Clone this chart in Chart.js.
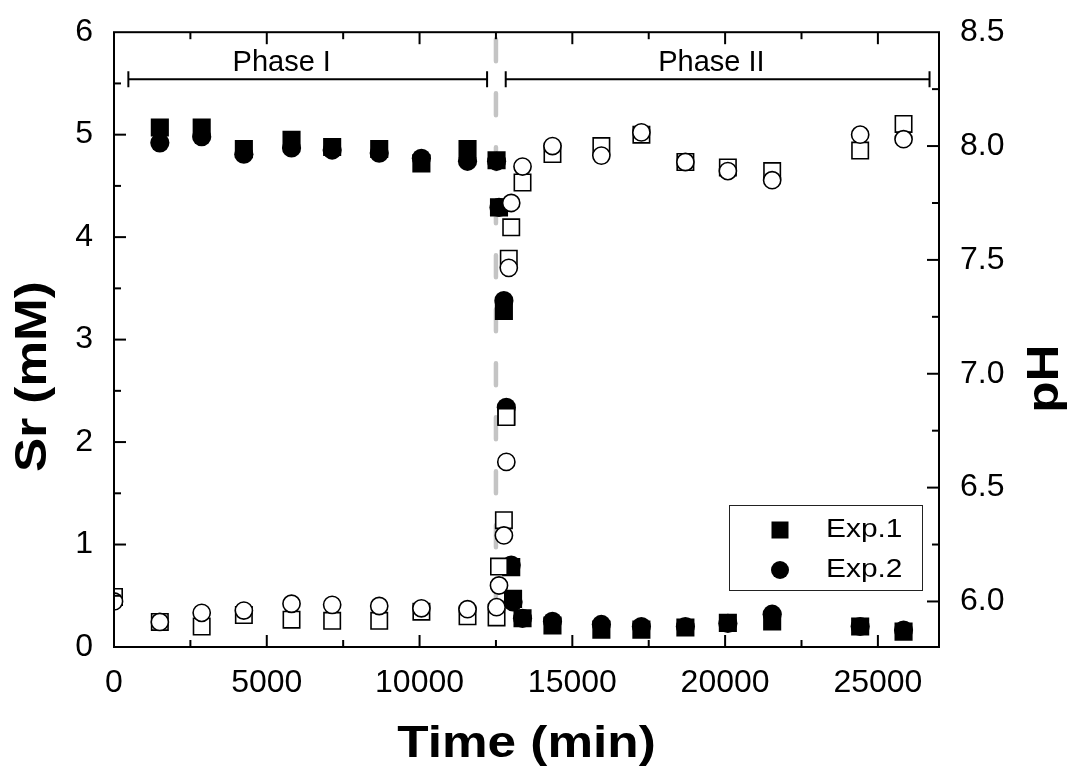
<!DOCTYPE html>
<html>
<head>
<meta charset="utf-8">
<script src="https://cdn.jsdelivr.net/npm/chart.js@4.4.1/dist/chart.umd.min.js"></script>
<style>
  html, body { margin: 0; padding: 0; background: #fff; }
  #wrap { width: 1076px; height: 771px; position: relative; }
</style>
</head>
<body>
<div id="wrap"><canvas id="srChart"></canvas></div>
<script>
// sampling times (min), shared by all series; null = no point at that time
const timeMin = [0, 1500, 2870, 4250, 5810, 7140, 8680, 10060, 11570, 12520, 12600, 12760, 12840, 12920, 13000, 13060, 13370, 14350, 15950, 17260, 18700, 20090, 21540, 24420, 25840];
// Sr concentration (mM), left axis
const srExp1 = [null, 5.07, 5.07, 4.86, 4.95, 4.88, 4.86, 4.72, 4.86, 4.75, 4.29, 3.28, 2.25, null, 0.78, 0.47, 0.28, 0.21, 0.17, 0.17, 0.19, 0.235, 0.25, 0.20, 0.15];
const srExp2 = [null, 4.92, 4.98, 4.81, 4.87, 4.85, 4.82, 4.77, 4.74, 4.74, 4.29, 3.38, 2.34, null, 0.80, 0.44, 0.28, 0.25, 0.22, 0.20, 0.20, 0.23, 0.32, 0.20, 0.165];
// pH, right axis
const phExp1 = [6.02, 5.91, 5.89, 5.94, 5.92, 5.915, 5.915, 5.955, 5.935, 5.93, 6.153, 6.357, 6.81, 7.505, 7.643, null, 7.84, 7.965, 8.0, 8.05, 7.93, 7.906, 7.89, 7.98, 8.097];
const phExp2 = [6.0, 5.91, 5.95, 5.96, 5.99, 5.985, 5.98, 5.97, 5.966, 5.975, 6.07, 6.29, 6.613, 7.465, 7.75, null, 7.91, 8.0, 7.958, 8.06, 7.93, 7.89, 7.85, 8.05, 8.03];

// tick labels
const xTicks = [0, 5000, 10000, 15000, 20000, 25000];
const srTicks = [0, 1, 2, 3, 4, 5, 6];
const phTicks = [6.0, 6.5, 7.0, 7.5, 8.0, 8.5];

// phase brackets (min) and the switch time
const phaseNames = ['Phase I', 'Phase II'];
const phaseStart = [470, 12820];
const phaseEnd = [12210, 26690];
const switchTime = 12500;

const FONT = "'Liberation Sans', Arial, sans-serif";
Chart.defaults.font.family = FONT;
Chart.defaults.color = '#000';

function pts(values) {
  const out = [];
  values.forEach((v, i) => { if (v !== null) out.push({x: timeMin[i], y: v}); });
  return out;
}

const datasets = [
  { label: 'pH Exp.2', data: pts(phExp2), yAxisID: 'yR', order: 0, clip: 0,
    pointStyle: 'circle', pointRadius: 8.6, backgroundColor: '#fff', borderColor: '#000', borderWidth: 1.6 },
  { label: 'pH Exp.1', data: pts(phExp1), yAxisID: 'yR', order: 1, clip: 0,
    pointStyle: 'rect', pointRadius: 11.6, backgroundColor: '#fff', borderColor: '#000', borderWidth: 1.6 },
  { label: 'Exp.2', data: pts(srExp2), yAxisID: 'y', order: 2, clip: 0,
    pointStyle: 'circle', pointRadius: 9.6, backgroundColor: '#000', borderColor: '#000', borderWidth: 0 },
  { label: 'Exp.1', data: pts(srExp1), yAxisID: 'y', order: 3, clip: 0,
    pointStyle: 'rect', pointRadius: 12.8, backgroundColor: '#000', borderColor: '#000', borderWidth: 0 },
];

// phase brackets: line with vertical end caps
phaseNames.forEach((name, i) => {
  datasets.push({
    label: name, yAxisID: 'y', order: 4, showLine: true,
    data: [{x: phaseStart[i], y: 5.54}, {x: phaseEnd[i], y: 5.54}],
    borderColor: '#000', borderWidth: 2,
    pointStyle: 'line', rotation: 90, pointRadius: 8, pointBorderWidth: 2, pointBorderColor: '#000'
  });
});

// grey dashed switch line
datasets.push({
  label: 'switch', yAxisID: 'y', order: 5, showLine: true,
  data: [{x: switchTime, y: 5.93}, {x: switchTime, y: 0.4}],
  borderColor: '#c4c4c4', borderWidth: 4.5, borderDash: [22, 32], borderCapStyle: 'round',
  pointRadius: 0
});

// text a bit wider than the font, like the original export
function wideText(ctx, text, x, y, rot, stretch) {
  ctx.save();
  ctx.translate(x, y);
  ctx.rotate(rot);
  ctx.scale(stretch, 1);
  ctx.fillText(text, 0, 0);
  ctx.restore();
}

const decorations = {
  id: 'decorations',
  afterDatasetsDraw(chart) {
    const {ctx, chartArea: a, scales} = chart;
    const x = scales.x, y = scales.y, yR = scales.yR;
    ctx.save();
    ctx.strokeStyle = '#000';
    ctx.lineWidth = 2;
    ctx.strokeRect(a.left, a.top, a.right - a.left, a.bottom - a.top);
    const seg = (x1, y1, x2, y2) => { ctx.beginPath(); ctx.moveTo(x1, y1); ctx.lineTo(x2, y2); ctx.stroke(); };

    // inward ticks, majors 12px, minors 7px
    for (let v = 2500; v < x.max; v += 2500) {
      const p = x.getPixelForValue(v);
      const len = v % 5000 === 0 ? 12 : 7;
      seg(p, a.bottom, p, a.bottom - len);
      seg(p, a.top, p, a.top + len);
    }
    for (let v = 0.5; v < y.max; v += 0.5) {
      const p = y.getPixelForValue(v);
      const len = Number.isInteger(v) ? 12 : 7;
      seg(a.left, p, a.left + len, p);
    }
    for (let v = 6.0; v < yR.max; v += 0.25) {
      const p = yR.getPixelForValue(v);
      const len = Math.abs(v * 2 - Math.round(v * 2)) < 1e-6 ? 12 : 7;
      seg(a.right, p, a.right - len, p);
    }

    // phase labels
    ctx.fillStyle = '#000';
    ctx.font = '29px ' + FONT;
    ctx.textAlign = 'center';
    ctx.textBaseline = 'middle';
    ctx.fillText(phaseNames[0], x.getPixelForValue(5490), y.getPixelForValue(5.70));
    ctx.fillText(phaseNames[1], x.getPixelForValue(19550), y.getPixelForValue(5.70));

    // legend box
    const bx = a.right - 210, by = a.bottom - 142, bw = 193, bh = 85;
    ctx.lineWidth = 1;
    ctx.strokeStyle = '#222';
    ctx.strokeRect(bx + 0.5, by + 0.5, bw, bh);
    ctx.fillRect(bx + 51 - 8.5, by + 25 - 8.5, 17, 17);
    ctx.beginPath();
    ctx.arc(bx + 51, by + 65, 9, 0, Math.PI * 2);
    ctx.fill();
    ctx.font = '26px ' + FONT;
    ctx.textAlign = 'left';
    wideText(ctx, 'Exp.1', bx + 97, by + 25, 0, 1.15);
    wideText(ctx, 'Exp.2', bx + 97, by + 65, 0, 1.15);

    // axis titles
    ctx.font = 'bold 45px ' + FONT;
    ctx.textAlign = 'center';
    ctx.textBaseline = 'alphabetic';
    const midY = (a.top + a.bottom) / 2 + 37;
    wideText(ctx, 'Sr (mM)', 46, midY, -Math.PI / 2, 1.14);
    wideText(ctx, 'pH', 1058, midY + 2, -Math.PI / 2, 1.14);
    wideText(ctx, 'Time (min)', (a.left + a.right) / 2, 757, 0, 1.14);
    ctx.restore();
  }
};

const ctx = document.getElementById('srChart').getContext('2d');

const config = {
  type: 'scatter',
  data: { datasets: datasets },
  options: {
    responsive: true,
    maintainAspectRatio: false,
    animation: false,
    layout: { padding: { top: 31, left: 0, right: 0, bottom: 0 } },
    plugins: { legend: { display: false }, tooltip: { enabled: false } },
    scales: {
      x: {
        type: 'linear', position: 'bottom', min: 0, max: 27000,
        grid: { display: false }, border: { display: false },
        afterBuildTicks: s => { s.ticks = xTicks.map(v => ({value: v})); },
        afterFit: s => { s.height = 124; },
        ticks: { font: { size: 32 }, padding: 9, maxRotation: 0, autoSkip: false, callback: v => String(v) }
      },
      y: {
        type: 'linear', position: 'left', min: 0, max: 6,
        grid: { display: false }, border: { display: false },
        afterBuildTicks: s => { s.ticks = srTicks.map(v => ({value: v})); },
        afterFit: s => { s.width = 114; },
        ticks: { font: { size: 32 }, padding: 13 }
      },
      yR: {
        type: 'linear', position: 'right', min: 5.8, max: 8.5,
        grid: { display: false }, border: { display: false },
        afterBuildTicks: s => { s.ticks = phTicks.map(v => ({value: v})); },
        afterFit: s => { s.width = 137; },
        ticks: { font: { size: 32 }, padding: 13, callback: v => Number(v).toFixed(1) }
      }
    }
  },
  plugins: [decorations]
};

const srChart = new Chart(ctx, config);
</script>
</body>
</html>
